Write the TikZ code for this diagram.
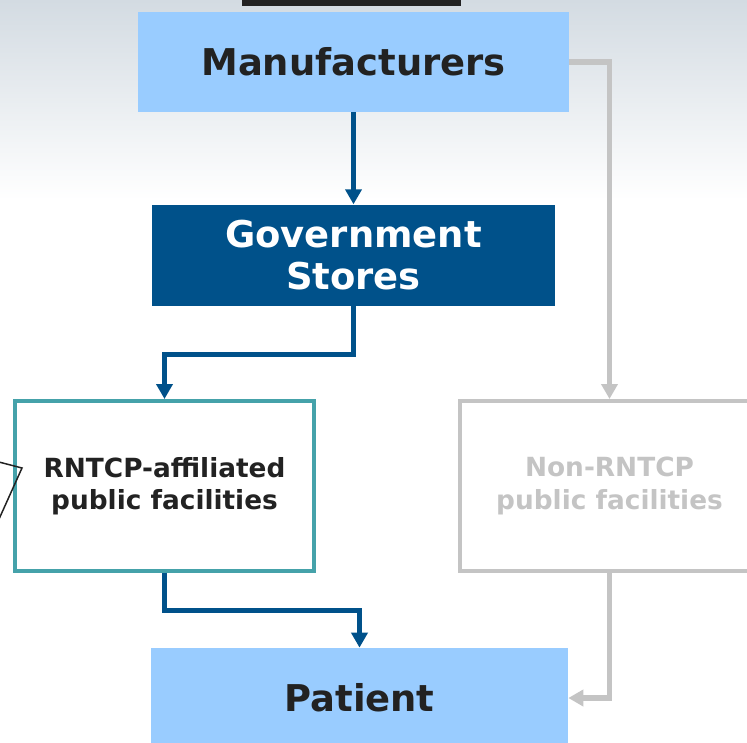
\documentclass[tikz,border=0pt]{standalone}
\usepackage{fontspec}
\setmainfont{DejaVu Sans}
\usetikzlibrary{positioning, arrows.meta}

\definecolor{lightbox}{HTML}{99CCFF}
\definecolor{darkbox}{HTML}{00518A}
\definecolor{tealline}{HTML}{45A2AA}
\definecolor{greyline}{HTML}{C4C4C4}
\definecolor{skytop}{HTML}{D3DBE2}
\definecolor{darktext}{HTML}{222222}

\begin{document}
\begin{tikzpicture}[x=0.02cm, y=-0.02cm, >={Triangle[length=0.3cm, width=0.32cm]},
    bigbox/.style={inner sep=0, font=\fontsize{21}{24}\selectfont\bfseries, align=center},
    facbox/.style={line width=0.08cm, fill=white, minimum width=5.98cm, minimum height=3.4cm,
      inner sep=0, font=\fontsize{15}{18.5}\selectfont\bfseries, align=center},
    flow/.style={->, line width=0.1cm, draw=darkbox},
    offflow/.style={->, line width=0.11cm, draw=greyline}]
  \clip (0,0) rectangle (747,743);
  \shade [top color=skytop, bottom color=white] (0,0) rectangle (747,200);
  \fill [darktext] (242,0) rectangle (461,6);

  \node [bigbox, fill=lightbox, text=darktext, minimum width=8.62cm, minimum height=2cm] (manufacturers) at (353.5,62) {Manufacturers};
  \node [bigbox, fill=darkbox, text=white, minimum width=8.08cm, minimum height=2.02cm, below=1.84cm of manufacturers] (govstores) {Government\\Stores};
  \node [facbox, draw=tealline, text=darktext] (rntcp) at (164.5,486) {RNTCP-affiliated\\public facilities};
  \node [facbox, draw=greyline, text=greyline] (nonrntcp) at (609.5,486) {Non-RNTCP\\public facilities};
  \node [bigbox, fill=lightbox, text=darktext, minimum width=8.34cm, minimum height=2cm] (patient) at (359.5,698) {Patient};

  \draw [flow] (manufacturers.south) -- (govstores.north);
  \draw [flow] (govstores.south) -- ++(0,48) -| (rntcp.north);
  \draw [flow] (rntcp.south) -- ++(0,38) -| (patient.north);
  \draw [offflow] (manufacturers.east) -| (nonrntcp.north);
  \draw [offflow] (nonrntcp.south) |- (patient.east);

  % callout cut off at the left edge
  \coordinate (callouttip) at (22,468);
  \draw [line width=0.03cm, darktext] (-5,461) -- (callouttip) -- (-5,528);
\end{tikzpicture}
\end{document}
